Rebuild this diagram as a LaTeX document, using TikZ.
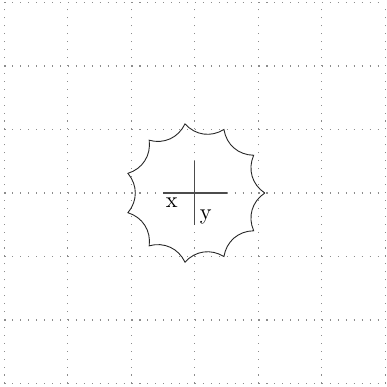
\documentclass[tikz,border=0pt]{standalone}
\usetikzlibrary{positioning}

\begin{document}
\begin{tikzpicture}[
    gridline/.style={gray!90, line width=0.5pt, dash pattern=on 0.5pt off 3.057pt},
    outline/.style={black!85, line width=0.4pt},
    axis/.style={black!70, line width=0.5pt},
    lbl/.style={font=\normalsize, inner sep=1pt}
]
  \useasboundingbox (-3.07,-3.055) rectangle (3.01,3.04);

  % dotted background grid
  \draw[gridline] (-3,-3) grid (3,3);

  % tips of the star
  \foreach \i in {0,...,10}
    \coordinate (t\i) at ({\i*360/11}:1.1);

  % concave arcs between the tips
  \draw[outline] (t0)
    foreach \i in {1,...,10} { to[bend left=40] (t\i) }
    to[bend left=40] (t0);

  % axes cross
  \coordinate (xl) at (-0.5,0);
  \coordinate (xr) at (0.5,0);
  \coordinate (yt) at (0,0.5);
  \coordinate (yb) at (0,-0.5);
  \draw[axis] (xl) -- (xr);
  \draw[axis] (yt) -- (yb);

  \node[lbl, below right=1pt and 0pt of xl] (xlab) {x};
  \node[lbl, inner sep=0pt, above right=0pt and 2pt of yb] (ylab) {y};
\end{tikzpicture}
\end{document}
